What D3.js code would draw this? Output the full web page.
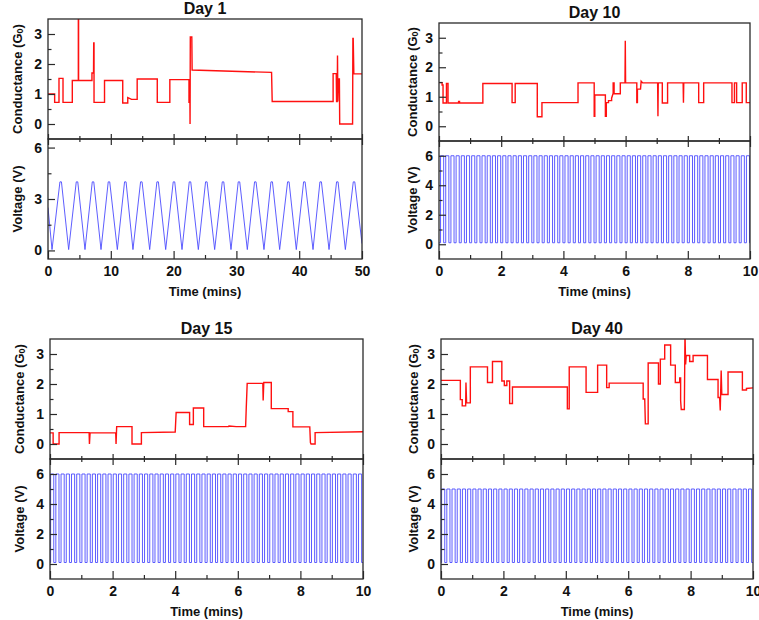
<!DOCTYPE html>
<html><head><meta charset="utf-8">
<script src="https://cdn.jsdelivr.net/npm/d3@7"></script>
<style>
body{margin:0;background:#fff;}
svg{display:block;}
text{font-family:"Liberation Sans",Arial,sans-serif;font-weight:bold;fill:#111;}
</style>
</head><body><svg id="chart" width="759" height="620"></svg>
<script>
// ---------------- DATA ----------------
const titles = ["Day 1", "Day 10", "Day 15", "Day 40"];
const timeMax = [50, 10, 10, 10];
const xMajorTicks = [[0,10,20,30,40,50],[0,2,4,6,8,10],[0,2,4,6,8,10],[0,2,4,6,8,10]];
const xMinorTicks = [[5,15,25,35,45],[1,3,5,7,9],[1,3,5,7,9],[1,3,5,7,9]];
const condDomain = [-0.5, 3.5];
const condTicks = [0, 1, 2, 3];
const condMinor = [0.5, 1.5, 2.5];
const voltDomains = [[-0.5, 6.5], [-1, 7], [-1, 7], [-1, 7]];
const voltTicks = [[0, 3, 6], [0, 2, 4, 6], [0, 2, 4, 6], [0, 2, 4, 6]];
const voltMinor = [[1.5, 4.5], [1, 3, 5], [1, 3, 5], [1, 3, 5]];

// conductance traces (time, G/G0) vertices
const condDay1 = [[0,1.0],[1.06,1.0],[1.06,0.72],[1.75,0.72],[1.75,1.52],[2.39,1.52],[2.39,0.72],[3.87,0.72],[3.87,1.45],[4.83,1.45],[4.83,3.7],[4.87,3.7],[4.87,1.45],[7.0,1.45],[7.0,1.7],[7.25,1.7],[7.28,2.7],[7.33,2.7],[7.33,0.72],[9.0,0.72],[9.0,1.45],[11.9,1.45],[11.9,0.7],[12.7,0.7],[12.7,0.88],[13.3,0.82],[14.2,0.82],[14.2,1.5],[17.4,1.5],[17.4,0.72],[19.4,0.72],[19.4,1.48],[22.45,1.48],[22.45,0.72],[22.6,0.72],[22.62,0.0],[22.66,2.9],[22.9,2.9],[22.95,1.8],[35.6,1.72],[35.7,0.75],[45.4,0.75],[45.4,1.68],[45.9,1.68],[45.95,0.75],[46.05,0.75],[46.1,2.28],[46.15,0.75],[46.25,1.5],[46.4,1.5],[46.45,0],[48.5,0],[48.55,2.85],[48.6,2.85],[48.7,1.67],[50,1.67]];
const condDay10 = [[0,1.48],[0.1,1.48],[0.1,1.4],[0.13,1.4],[0.13,0.79],[0.24,0.79],[0.24,1.45],[0.29,1.45],[0.29,0.79],[0.63,0.79],[0.63,0.84],[0.66,0.84],[0.66,0.79],[1.41,0.79],[1.41,1.45],[2.35,1.45],[2.35,0.8],[2.45,0.8],[2.45,1.45],[3.16,1.45],[3.16,0.32],[3.31,0.32],[3.31,0.8],[4.47,0.8],[4.47,1.47],[4.99,1.47],[4.99,0.34],[5.01,0.34],[5.01,1.06],[5.35,1.06],[5.35,0.34],[5.38,0.34],[5.38,0.8],[5.45,0.8],[5.45,0.87],[5.55,0.87],[5.55,0.95],[5.6,1.12],[5.6,1.47],[5.63,1.47],[5.63,1.1],[5.83,1.1],[5.83,1.47],[5.98,1.47],[5.99,2.9],[6.0,1.47],[6.36,1.47],[6.36,0.8],[6.38,0.8],[6.38,1.26],[6.48,1.26],[6.5,1.53],[6.55,1.47],[7.03,1.47],[7.04,0.34],[7.05,1.47],[7.18,1.47],[7.18,0.79],[7.35,0.79],[7.35,1.47],[7.85,1.47],[7.86,0.8],[7.87,1.47],[8.35,1.47],[8.35,0.8],[8.51,0.8],[8.51,1.47],[9.42,1.47],[9.42,0.8],[9.5,0.8],[9.5,1.47],[9.57,1.47],[9.57,0.8],[9.75,0.8],[9.75,1.47],[9.88,1.47],[9.88,0.8],[10,0.8]];
const condDay15 = [[0,0.37],[0.1,0.37],[0.1,0],[0.29,0],[0.29,0.38],[1.25,0.38],[1.26,0.0],[1.28,0.37],[2.1,0.37],[2.11,0.0],[2.13,0.58],[2.62,0.58],[2.62,0],[2.92,0],[2.92,0.38],[4.0,0.4],[4.03,1.05],[4.46,1.05],[4.46,0.65],[4.58,0.65],[4.58,1.2],[4.91,1.2],[4.91,0.58],[5.7,0.58],[5.72,0.6],[5.95,0.58],[6.25,0.58],[6.27,1.2],[6.3,2.02],[6.8,2.02],[6.81,1.45],[6.83,2.05],[7.07,2.05],[7.07,1.18],[7.61,1.18],[7.61,1.08],[7.76,1.08],[7.76,0.57],[8.3,0.57],[8.32,0.05],[8.34,0],[8.47,0],[8.47,0.38],[10,0.41]];
const condDay40 = [[0,2.12],[0.62,2.12],[0.62,1.48],[0.68,1.48],[0.68,1.27],[0.79,1.27],[0.8,2.05],[0.82,1.37],[0.94,1.37],[0.94,2.57],[1.49,2.57],[1.49,2.05],[1.65,2.05],[1.65,2.75],[1.95,2.75],[1.95,2.1],[2.03,2.1],[2.03,1.95],[2.11,1.95],[2.11,2.1],[2.2,2.1],[2.2,1.35],[2.29,1.35],[2.29,1.9],[4.05,1.9],[4.05,1.17],[4.11,1.17],[4.11,2.57],[4.65,2.57],[4.65,1.72],[5.02,1.72],[5.02,2.63],[5.31,2.63],[5.31,1.88],[5.39,1.88],[5.39,2.03],[6.48,2.03],[6.48,1.5],[6.53,1.5],[6.55,0.67],[6.64,0.67],[6.64,2.7],[6.97,2.7],[6.97,2.0],[7.03,2.0],[7.03,2.83],[7.17,2.83],[7.17,3.3],[7.36,3.3],[7.36,2.63],[7.51,2.63],[7.51,2.05],[7.65,2.05],[7.65,2.2],[7.68,2.2],[7.68,1.45],[7.7,1.15],[7.8,1.15],[7.82,3.7],[7.84,2.65],[7.86,2.95],[7.97,2.95],[7.97,2.75],[8.08,2.75],[8.08,2.95],[8.54,2.95],[8.54,2.15],[8.88,2.15],[8.88,1.55],[8.93,1.55],[8.95,1.12],[8.98,2.45],[9.0,1.65],[9.2,1.65],[9.2,2.4],[9.66,2.4],[9.66,1.8],[9.79,1.8],[9.79,1.85],[10,1.87]];

// Day 1 triangular voltage sweep (mins)
const triPeaks = [2.02,4.62,7.17,9.71,12.31,14.86,17.46,20.06,22.61,25.21,27.87,30.41,33.01,35.62,38.27,40.82,43.42,46.07,48.73];
const triValleys = [0.64,3.29,5.89,8.44,11.04,13.53,16.19,18.74,21.34,23.94,26.54,29.14,31.74,34.39,36.89,39.54,42.2,44.75,47.35];
const triStartV = 2.5, triEndV = 0.4, triHigh = 4.0, triLow = 0.05, triPlateau = 0.12;

// Day 10 / 15 / 40 pulse trains
const pulseStart = [0.05, 0.02, 0.02];
const pulsePeriod = [0.1667, 0.1667, 0.1667];
const pulseDuty = [0.6, 0.6, 0.6];
const pulseHigh = [6, 6, 5];
const pulseLow = [0.1, 0.1, 0.1];

// ---------------- LAYOUT ----------------
const panels = [
  {l:48, r:362, top:19, sep:139, bot:259, labX:17},
  {l:439, r:750, top:23, sep:141, bot:259, labX:412},
  {l:50, r:363, top:339, sep:459, bot:579, labX:19},
  {l:441, r:753, top:339, sep:459, bot:579, labX:413}
];
const condData = [condDay1, condDay10, condDay15, condDay40];

function voltageSeries(i){
  if(i===0){
    const ev = triPeaks.map(t=>({t,k:"p"})).concat(triValleys.map(t=>({t,k:"v"}))).sort((a,b)=>a.t-b.t);
    const pts = [[0,triStartV]];
    ev.forEach(e=>{
      if(e.k==="v") pts.push([e.t,triLow]);
      else { pts.push([e.t-triPlateau,triHigh]); pts.push([e.t+triPlateau,triHigh]); }
    });
    pts.push([timeMax[0],triEndV]);
    return pts;
  }
  const j=i-1, T=timeMax[i];
  const pts=[[0,pulseLow[j]]];
  for(let k=0;;k++){
    const t0=pulseStart[j]+k*pulsePeriod[j];
    if(t0>=T) break;
    const t1=Math.min(t0+pulseDuty[j]*pulsePeriod[j],T);
    pts.push([t0,pulseLow[j]],[t0,pulseHigh[j]],[t1,pulseHigh[j]],[t1,pulseLow[j]]);
  }
  pts.push([T,pulseLow[j]]);
  return pts;
}

const svg = d3.select("#chart");
const defs = svg.append("defs");
const ink = "#2a2a2a";

panels.forEach((p,i)=>{
  const g = svg.append("g");
  const x = d3.scaleLinear().domain([0,timeMax[i]]).range([p.l,p.r]);
  const yc = d3.scaleLinear().domain(condDomain).range([p.sep,p.top]);
  const yv = d3.scaleLinear().domain(voltDomains[i]).range([p.bot,p.sep]);

  defs.append("clipPath").attr("id","cc"+i).append("rect")
    .attr("x",p.l).attr("y",p.top).attr("width",p.r-p.l).attr("height",p.sep-p.top);
  defs.append("clipPath").attr("id","cv"+i).append("rect")
    .attr("x",p.l).attr("y",p.sep).attr("width",p.r-p.l).attr("height",p.bot-p.sep);

  // traces
  g.append("path").datum(voltageSeries(i))
    .attr("clip-path","url(#cv"+i+")")
    .attr("fill","none").attr("stroke","#4b4bff").attr("stroke-width",0.9)
    .attr("d",d3.line().x(d=>x(d[0])).y(d=>yv(d[1])));
  g.append("path").datum(condData[i])
    .attr("clip-path","url(#cc"+i+")")
    .attr("fill","none").attr("stroke","#ff1010").attr("stroke-width",1.4)
    .attr("stroke-linejoin","miter")
    .attr("d",d3.line().x(d=>x(d[0])).y(d=>yc(d[1])));

  const styleAxis = sel=>{
    sel.select(".domain").remove();
    sel.selectAll(".tick line").attr("stroke",ink).attr("stroke-width",1.2);
    sel.selectAll(".tick text").attr("font-size",14).attr("font-family","Liberation Sans, Arial, sans-serif").attr("font-weight","bold").attr("fill","#111");
  };

  // bottom axis
  g.append("g").attr("transform",`translate(0,${p.bot})`)
    .call(d3.axisBottom(x).tickValues(xMajorTicks[i]).tickSize(-8).tickPadding(7).tickFormat(d3.format("d")))
    .call(styleAxis);
  g.append("g").attr("transform",`translate(0,${p.bot})`)
    .call(d3.axisBottom(x).tickValues(xMinorTicks[i]).tickSize(-4).tickFormat(""))
    .call(styleAxis);
  // separator ticks
  g.append("g").attr("transform",`translate(0,${p.sep})`)
    .call(d3.axisTop(x).tickValues(xMajorTicks[i]).tickSize(5).tickFormat(""))
    .call(styleAxis);
  g.append("g").attr("transform",`translate(0,${p.sep})`)
    .call(d3.axisBottom(x).tickValues(xMajorTicks[i]).tickSize(6).tickFormat(""))
    .call(styleAxis);
  g.append("g").attr("transform",`translate(0,${p.sep})`)
    .call(d3.axisTop(x).tickValues(xMinorTicks[i]).tickSize(3).tickFormat(""))
    .call(styleAxis);
  g.append("g").attr("transform",`translate(0,${p.sep})`)
    .call(d3.axisBottom(x).tickValues(xMinorTicks[i]).tickSize(3).tickFormat(""))
    .call(styleAxis);

  // y axes
  g.append("g").attr("transform",`translate(${p.l},0)`)
    .call(d3.axisLeft(yc).tickValues(condTicks).tickSize(-7).tickPadding(6).tickFormat(d3.format("d")))
    .call(styleAxis);
  g.append("g").attr("transform",`translate(${p.l},0)`)
    .call(d3.axisLeft(yc).tickValues(condMinor).tickSize(-3.5).tickFormat(""))
    .call(styleAxis);
  g.append("g").attr("transform",`translate(${p.l},0)`)
    .call(d3.axisLeft(yv).tickValues(voltTicks[i]).tickSize(-7).tickPadding(6).tickFormat(d3.format("d")))
    .call(styleAxis);
  g.append("g").attr("transform",`translate(${p.l},0)`)
    .call(d3.axisLeft(yv).tickValues(voltMinor[i]).tickSize(-3.5).tickFormat(""))
    .call(styleAxis);

  // frames
  [[p.top,p.sep],[p.sep,p.bot]].forEach(([a,b])=>{
    g.append("rect").attr("x",p.l).attr("y",a).attr("width",p.r-p.l).attr("height",b-a)
      .attr("fill","none").attr("stroke",ink).attr("stroke-width",1.3);
  });

  // title
  g.append("text").attr("x",(p.l+p.r)/2).attr("y",p.top-5)
    .attr("text-anchor","middle").attr("font-size",16).text(titles[i]);

  // x label
  g.append("text").attr("x",(p.l+p.r)/2).attr("y",p.bot+37)
    .attr("text-anchor","middle").attr("font-size",13).text("Time (mins)");

  // y labels
  const ct = g.append("text")
    .attr("transform",`translate(${p.labX},${(p.top+p.sep)/2}) rotate(-90)`)
    .attr("text-anchor","middle").attr("dominant-baseline","central").attr("font-size",13);
  ct.append("tspan").text("Conductance (G");
  ct.append("tspan").attr("font-size",9).attr("dy",3).text("0");
  ct.append("tspan").attr("dy",-3).text(")");

  g.append("text")
    .attr("transform",`translate(${p.labX},${(p.sep+p.bot)/2}) rotate(-90)`)
    .attr("text-anchor","middle").attr("dominant-baseline","central").attr("font-size",13)
    .text("Voltage (V)");
});
</script>
</body></html>
